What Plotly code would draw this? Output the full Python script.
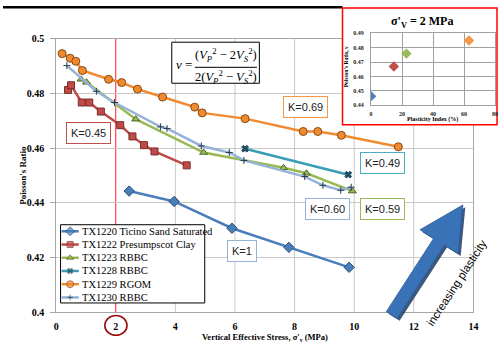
import plotly.graph_objects as go
import math

# ---------------- data ----------------
tx1220_x = [2.45, 3.96, 5.90, 7.81, 9.83]
tx1220_y = [0.4443, 0.4405, 0.4307, 0.4237, 0.4164]

tx1222_x = [0.40, 0.50, 0.86, 1.11, 1.50, 2.15, 2.56, 2.95, 3.30, 4.38]
tx1222_y = [0.4813, 0.4830, 0.4767, 0.4767, 0.4734, 0.4684, 0.4643, 0.4611, 0.4588, 0.4537]

tx1223_x = [0.84, 1.02, 2.67, 4.95, 7.63, 8.40, 9.94]
tx1223_y = [0.4852, 0.4841, 0.4706, 0.4584, 0.4528, 0.4508, 0.4443]

tx1228_x = [6.34, 9.80]
tx1228_y = [0.4598, 0.4503]

tx1229_x = [0.20, 0.47, 0.66, 0.88, 1.76, 2.20, 2.73, 3.57, 4.65, 4.90, 6.34, 8.29, 8.78, 9.57, 11.48]
tx1229_y = [0.4946, 0.4929, 0.4918, 0.4884, 0.4852, 0.4840, 0.4816, 0.4787, 0.4750, 0.4729,
            0.4708, 0.4661, 0.4661, 0.4647, 0.4605]

tx1230_x = [0.36, 1.35, 1.96, 3.50, 3.72, 4.87, 5.81, 6.30, 8.34, 8.95, 9.55, 9.90]
tx1230_y = [0.4902, 0.4808, 0.4767, 0.4678, 0.4672, 0.4608, 0.4584, 0.4555, 0.4496, 0.4464,
            0.4446, 0.4457]

series_names = ["TX1220 Ticino Sand Saturated", "TX1222 Presumpscot Clay", "TX1223 RBBC",
                "TX1228 RBBC", "TX1229 RGOM", "TX1230 RBBC"]

k_labels = ["K=0.45", "K=0.69", "K=0.49", "K=0.60", "K=0.59", "K=1"]

# inset: Poisson's ratio at sigma'v = 2 MPa vs plasticity index
inset_pi = [0.0, 14.7, 22.8, 63.2]
inset_nu = [0.4463, 0.4669, 0.4759, 0.4850]

x_ticks = [0, 2, 4, 6, 8, 10, 12, 14]
y_ticks = [0.40, 0.42, 0.44, 0.46, 0.48, 0.50]
y_tick_labels = ["0.4", "0.42", "0.44", "0.46", "0.48", "0.5"]
inset_x_ticks = [0, 20, 40, 60, 80]
inset_y_ticks = [0.44, 0.45, 0.46, 0.47, 0.48, 0.49]

# ---------------- styling ----------------
W, H = 503, 350
SERIF = "Liberation Serif"
SANS = "Liberation Sans"

col_blue = "#4a7ebb"
col_red = "#be4b48"
col_green = "#98b954"
col_teal = "#3b9cb5"
col_orange = "#f08a30"
col_lblue = "#95b3d7"

def fx(p):
    return p / W

def fy(p):
    return (H - p) / H

fig = go.Figure()

styles = [
    (tx1220_x, tx1220_y, col_blue, "diamond", col_blue, "#2c4d75", 8),
    (tx1222_x, tx1222_y, col_red, "square", col_red, "#7a2c2a", 7),
    (tx1223_x, tx1223_y, col_green, "triangle-up", col_green, "#4f6428", 7),
    (tx1228_x, tx1228_y, col_teal, "x", "#1f4e5f", "#1f4e5f", 6),
    (tx1229_x, tx1229_y, col_orange, "circle", col_orange, "#8a4a12", 8),
    (tx1230_x, tx1230_y, col_lblue, "cross-thin", "#2a3b50", "#2a3b50", 5),
]

for (xs, ys, lc, sym, mc, mlc, ms), name in zip(styles, series_names):
    fig.add_trace(go.Scatter(
        x=xs, y=ys, name=name, mode="lines+markers",
        line=dict(color=lc, width=2.5),
        marker=dict(symbol=sym, color=mc, size=ms, line=dict(color=mlc, width=1)),
        xaxis="x", yaxis="y", showlegend=False, hoverinfo="skip"))

# ---------------- overlay (pixel-space) subplot for decorations ----------------
shapes = []

# main vertical gridlines (red at 2)
for v in x_ticks[1:-1]:
    shapes.append(dict(type="line", xref="x", yref="y", x0=v, x1=v, y0=y_ticks[0], y1=y_ticks[-1],
                       line=dict(color="#ff2020" if v == 2 else "#c8c8c8", width=1), layer="below"))

# top black bar
shapes.append(dict(type="rect", xref="x2", yref="y2", x0=0, x1=345, y0=0, y1=2.6,
                   fillcolor="black", line=dict(width=0), layer="below"))

# inset white box with red border
shapes.append(dict(type="rect", xref="x2", yref="y2", x0=345, x1=502, y0=2, y1=123,
                   fillcolor="white", line=dict(color="#ff0000", width=1.5), layer="below"))

# equation box
shapes.append(dict(type="rect", xref="x2", yref="y2", x0=171.5, x1=260.5, y0=37.5, y1=80,
                   fillcolor="white", line=dict(color="black", width=1), layer="below"))
shapes.append(dict(type="line", xref="x2", yref="y2", x0=195, x1=258, y0=63.5, y1=63.5,
                   line=dict(color="black", width=1), layer="below"))

# legend box
shapes.append(dict(type="rect", xref="x2", yref="y2", x0=58.5, x1=205, y0=226.5, y1=307.5,
                   fillcolor="white", line=dict(color="black", width=1), layer="below"))
leg_rows = [233.3, 247.0, 260.7, 274.4, 288.1, 301.8]
for (xs, ys, lc, sym, mc, mlc, ms), ry in zip(styles, leg_rows):
    shapes.append(dict(type="line", xref="x2", yref="y2", x0=59.5, x1=77, y0=ry, y1=ry,
                       line=dict(color=lc, width=2.5), layer="below"))

# circle round the "2" tick label
shapes.append(dict(type="circle", xref="x2", yref="y2", x0=103.5, x1=126, y0=320.5, y1=341,
                   line=dict(color="#9a0c0c", width=1.6), layer="below"))

# big arrow
T = (395.0, 320.0)
Hd = (467.3, 206.0)
L = math.hypot(Hd[0] - T[0], Hd[1] - T[1])
u = ((Hd[0] - T[0]) / L, (Hd[1] - T[1]) / L)
n = (-u[1], u[0])
head_len, head_hw, shaft_hw = 45.0, 23.0, 6.5
B = (Hd[0] - head_len * u[0], Hd[1] - head_len * u[1])

def arrow_path(dx=0.0, dy=0.0):
    pts = [
        (T[0] + shaft_hw * n[0], T[1] + shaft_hw * n[1]),
        (B[0] + shaft_hw * n[0], B[1] + shaft_hw * n[1]),
        (B[0] + head_hw * n[0], B[1] + head_hw * n[1]),
        Hd,
        (B[0] - head_hw * n[0], B[1] - head_hw * n[1]),
        (B[0] - shaft_hw * n[0], B[1] - shaft_hw * n[1]),
        (T[0] - shaft_hw * n[0], T[1] - shaft_hw * n[1]),
    ]
    return "M " + " L ".join(f"{p[0] + dx:.1f},{p[1] + dy:.1f}" for p in pts) + " Z"

shapes.append(dict(type="path", xref="x2", yref="y2", path=arrow_path(2.5, 2.5),
                   fillcolor="#1d3c66", line=dict(width=0), layer="below", opacity=0.85))
shapes.append(dict(type="path", xref="x2", yref="y2", path=arrow_path(),
                   fillcolor="#3a72b8", line=dict(color="#2b5a94", width=0.8), layer="below"))

# legend glyph markers (overlay, pixel space)
fig.add_trace(go.Scatter(
    x=[68.2] * 6, y=leg_rows, mode="markers", xaxis="x2", yaxis="y2",
    marker=dict(symbol=[s[3] for s in styles], color=[s[4] for s in styles],
                size=[s[6] - 1 for s in styles],
                line=dict(color=[s[5] for s in styles], width=1)),
    showlegend=False, hoverinfo="skip"))

# ---------------- inset data ----------------
fig.add_trace(go.Scatter(
    x=inset_pi, y=inset_nu, mode="markers", xaxis="x3", yaxis="y3",
    marker=dict(symbol="diamond", size=8, color=["#4a7ebb", "#c0504d", "#9bbb59", "#f79646"],
                line=dict(width=0)),
    showlegend=False, hoverinfo="skip"))

# ---------------- annotations ----------------
ann = []

def A(x, y, text, size, family=SERIF, color="black", **kw):
    d = dict(xref="x2", yref="y2", x=x, y=y, text=text, showarrow=False,
             font=dict(family=family, size=size, color=color))
    d.update(kw)
    ann.append(d)

# legend text
for name, ry in zip(series_names, leg_rows):
    A(78, ry, name, 10.5, xanchor="left", yanchor="middle")

# K labels
k_pos = [(87, 131), (307.5, 105), (386, 162.5), (330, 210), (386, 210), (243, 253.5)]
k_cols = ["#c0504d", "#f79646", "#4bacc6", "#95b3d7", "#9bbb59", "#95b3d7"]
for t, (x, y), c in zip(k_labels, k_pos, k_cols):
    A(x, y, t, 11, family=SANS, color="#222222", bordercolor=c, borderwidth=1,
      borderpad=4, bgcolor="white", xanchor="center", yanchor="middle")

# equation
A(184, 61, "<i>ν</i> =", 13, xanchor="center", yanchor="middle")
A(226.5, 51, "(<i>V</i><sub><i>P</i></sub><sup>2</sup> − 2<i>V</i><sub><i>S</i></sub><sup>2</sup>)",
  12.5, xanchor="center", yanchor="middle")
A(226.5, 73, "2(<i>V</i><sub><i>P</i></sub><sup>2</sup> − <i>V</i><sub><i>S</i></sub><sup>2</sup>)",
  12.5, xanchor="center", yanchor="middle")

# axis titles (main)
A(266, 343, "<b>Vertical Effective Stress, σ'<sub>v</sub> (MPa)</b>", 8.5,
  xanchor="center", yanchor="middle")
A(20, 175, "<b>Poisson's Ratio</b>", 9, textangle=-90, xanchor="center", yanchor="middle")

# inset texts
A(426, 17, "<b>σ'<sub>V</sub> = 2 MPa</b>", 12, xanchor="center", yanchor="middle")
A(436, 118, "<b>Plasticity Index (%)</b>", 6, xanchor="center", yanchor="middle")
A(348, 63, "<b>Poisson's Ratio, ν</b>", 5.5, textangle=-90, xanchor="center", yanchor="middle")

# arrow text
A(461, 287, "increasing plasticity", 11.5, family=SANS, textangle=-57,
  xanchor="center", yanchor="middle")

tickfont = dict(family=SERIF, size=10, color="black", weight="bold")
inset_tickfont = dict(family=SERIF, size=6, color="#222222", weight="bold")

fig.update_layout(
    width=W, height=H,
    margin=dict(l=0, r=0, t=0, b=0),
    paper_bgcolor="white", plot_bgcolor="rgba(0,0,0,0)",
    showlegend=False, hovermode=False,
    shapes=shapes, annotations=ann,
    xaxis=dict(domain=[fx(54), fx(478)], range=[0, 14], tickvals=x_ticks,
               showgrid=False, zeroline=False, showline=True, mirror=True,
               linecolor="#a6a6a6", linewidth=1, ticks="", tickfont=tickfont,
               ticklabelstandoff=5, anchor="y"),
    yaxis=dict(domain=[fy(317), fy(34)], range=[0.4, 0.5], tickvals=y_ticks,
               ticktext=y_tick_labels, showgrid=True, gridcolor="#c8c8c8", gridwidth=1,
               zeroline=False, showline=True, mirror=True, linecolor="#a6a6a6",
               ticks="outside", ticklen=5, tickcolor="#a6a6a6", tickfont=tickfont,
               ticklabelstandoff=4, anchor="x"),
    xaxis2=dict(domain=[0, 1], range=[0, W], visible=False, anchor="y2", fixedrange=True),
    yaxis2=dict(domain=[0, 1], range=[H, 0], visible=False, anchor="x2", fixedrange=True),
    xaxis3=dict(domain=[fx(374), fx(500)], range=[0, 80], tickvals=inset_x_ticks,
                showgrid=True, gridcolor="#a0a0a0", zeroline=False, showline=True, mirror=True,
                linecolor="#a0a0a0", ticks="", tickfont=inset_tickfont,
                ticklabelstandoff=3, anchor="y3"),
    yaxis3=dict(domain=[fy(102.7), fy(28.3)], range=[0.44, 0.49], tickvals=inset_y_ticks,
                tickformat=".2f", showgrid=True, gridcolor="#a0a0a0", zeroline=False,
                showline=True, mirror=True, linecolor="#a0a0a0", ticks="",
                tickfont=inset_tickfont, ticklabelstandoff=5, anchor="x3"),
)

fig.write_html("out.html")
